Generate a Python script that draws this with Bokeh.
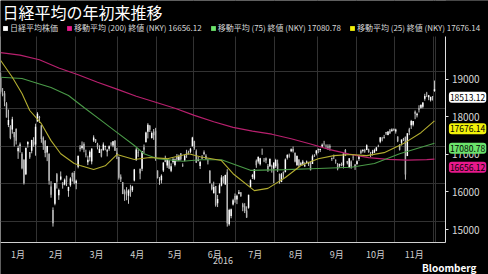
from bokeh.plotting import figure
from bokeh.models import (ColumnDataSource, Range1d, FixedTicker, Legend, LegendItem, Label,
                          BoxAnnotation)
from bokeh.embed import file_html
from bokeh.resources import INLINE

FONT = "Noto Sans CJK JP"

title_text = "日経平均の年初来推移"
source_text = "Bloomberg"
month_labels = ["1月", "2月", "3月", "4月", "5月", "6月", "7月", "8月", "9月", "10月", "11月"]
year_label = "2016"
y_tick_values = [15000, 16000, 17000, 18000, 19000]

# trading days (day of month) per month, 2016
days_jan = [4,5,6,7,8,12,13,14,15,18,19,20,21,22,25,26,27,28,29]
days_feb = [1,2,3,4,5,8,9,10,12,15,16,17,18,19,22,23,24,25,26,29]
days_mar = [1,2,3,4,7,8,9,10,11,14,15,16,17,18,22,23,24,25,28,29,30,31]
days_apr = [1,4,5,6,7,8,11,12,13,14,15,18,19,20,21,22,25,26,27,28]
days_may = [2,6,9,10,11,12,13,16,17,18,19,20,23,24,25,26,27,30,31]
days_jun = [1,2,3,6,7,8,9,10,13,14,15,16,17,20,21,22,23,24,27,28,29,30]
days_jul = [1,4,5,6,7,8,11,12,13,14,15,19,20,21,22,25,26,27,28,29]
days_aug = [1,2,3,4,5,8,9,10,12,15,16,17,18,19,22,23,24,25,26,29,30,31]
days_sep = [1,2,5,6,7,8,9,12,13,14,15,16,20,21,23,26,27,28,29,30]
days_oct = [3,4,5,6,7,11,12,13,14,17,18,19,20,21,24,25,26,27,28,31]
days_nov = [1,2,4,7,8,9,10,11,14,15,16,17,18,21,22,24,25,28,29,30]
days_dec = [1]
month_days = [days_jan, days_feb, days_mar, days_apr, days_may, days_jun,
              days_jul, days_aug, days_sep, days_oct, days_nov, days_dec]

opens = [
 18818,18398,18410,18139,17562,17538,17442,17379,17463,16866,17016,16800,16640,16254,17050,16848,16883,17122,17046,
 17657,17784,17558,17226,17146,16832,16795,15929,15305,15469,16256,15701,16116,16035,15985,16211,15808,15961,16287,16287,
 16017,16452,16938,16953,17061,16800,16575,16711,16594,17155,17185,17065,16821,16909,16893,16982,16860,16933,17089,17017,17151,16829,
 16720,16187,16044,15798,15822,15682,15870,15829,16087,16629,16842,16400,16403,16973,17114,17383,17543,17217,17386,17413,
 16357,16095,16098,16356,16659,16490,16630,16346,16580,16505,16714,16630,16811,16496,16619,16833,16850,16854,16997,
 17134,16865,16615,16474,16714,16799,16747,16618,16357,15977,15748,15944,15484,15751,15957,16199,15986,16312,14927,15147,15455,15681,
 15587,15739,15777,15461,15403,15295,15366,15918,16191,16134,16615,16597,16520,16807,16637,16684,16478,16465,16469,16412,
 16471,16542,16268,16053,16322,16312,16695,16752,16865,16929,16830,16503,16647,16507,16533,16463,16564,16540,16568,16528,16757,16806,
 16915,16902,16989,17087,17023,16994,17006,16659,16742,16608,16531,16491,16528,16489,16903,16606,16446,16598,16702,16507,
 16526,16659,16878,16877,16897,16900,16917,16804,16824,16833,16879,17004,17117,17207,17219,17344,17299,17418,17403,17460,
 17390,17256,17012,17095,17202,17255,16740,17452,17556,17571,17919,17824,18010,18024,18052,18265,18398,18303,18220,18323,
 18469]
highs = [
 18951,18547,18469,18172,17975,17561,17783,17379,17471,17019,17100,16843,16652,16958,17134,16848,17173,17241,17599,
 17905,17807,17558,17262,17162,17011,16816,16071,15375,16022,16288,15874,16330,16040,16142,16222,15925,16179,16302,16343,
 16114,16747,17031,17127,17105,16908,16749,16891,16940,17291,17193,17093,17026,16930,17102,17017,16929,17022,17107,17134,17155,16953,
 16721,16252,16050,15853,15913,15856,15976,15951,16398,16955,16915,16403,16874,17046,17387,17613,17565,17394,17457,17489,
 16357,16180,16253,16571,16749,16665,16630,16545,16690,16673,16794,16776,16818,16545,16781,16906,16881,16956,17251,
 17146,16916,16719,16613,16766,16889,16788,16673,16357,16007,16059,15944,15705,16014,16232,16202,16245,16390,15338,15345,15604,15744,
 15715,15837,15781,15496,15487,15403,15710,16118,16264,16389,16649,16723,16693,16938,16688,16702,16527,16670,16509,16569,
 16667,16644,16270,16288,16325,16676,16790,16805,16943,16993,16831,16745,16650,16585,16637,16572,16622,16586,16598,16778,16789,16901,
 16941,16936,17073,17144,17050,17051,17050,16699,16778,16654,16555,16538,16566,16807,16925,16611,16683,16623,16782,16530,
 16625,16774,16909,16923,16932,17050,16935,16849,16905,16935,16981,17041,17236,17249,17301,17381,17400,17459,17477,17474,
 17468,17261,17055,17177,17223,17255,17344,17490,17700,17668,17950,17893,18089,18106,18170,18395,18445,18363,18320,18335,
 18746]
lows = [
 18394,18327,18064,17767,17509,17186,17334,16994,17046,16665,16832,16387,15983,16234,16964,16665,16812,16987,16749,
 17658,17619,17092,16904,16708,16604,15979,15633,14865,15431,15875,15575,16093,15874,15960,15941,15657,15924,16063,15990,
 15857,16413,16860,16912,16841,16706,16500,16601,16520,17111,17087,16917,16821,16704,16885,16893,16730,16880,17012,16975,16879,16659,
 16113,16051,15727,15548,15566,15471,15657,15785,16066,16618,16718,16122,16339,16813,17093,17208,17379,17204,17170,16614,
 16147,15975,16011,16316,16576,16425,16392,16312,16540,16465,16590,16598,16621,16451,16600,16692,16779,16813,16992,
 16907,16559,16599,16395,16658,16761,16642,16517,16019,15827,15748,15395,15384,15751,15934,16012,15980,14864,14888,15085,15426,15500,
 15462,15725,15657,15273,15224,15096,15339,15907,16129,16105,16427,16540,16489,16772,16578,16549,16319,16464,16299,16023,
 16426,16318,16004,16045,16160,16312,16647,16695,16843,16833,16572,16473,16440,16491,16489,16462,16552,16475,16360,16528,16718,16758,
 16815,16846,16976,17015,16928,16905,16885,16611,16658,16535,16360,16436,16470,16410,16740,16517,16417,16405,16625,16372,
 16509,16611,16793,16833,16826,16896,16828,16713,16755,16820,16868,16976,17081,17132,17202,17298,17290,17336,17382,17409,
 17336,17109,16887,17020,17141,16112,16738,17296,17460,17529,17719,17766,17898,17995,18007,18211,18307,18224,18189,18216,
 18446]
closes = [
 18451,18374,18191,17767,17698,17219,17716,17241,17147,16956,17048,16416,16017,16959,17111,16709,17164,17041,17518,
 17865,17751,17191,17045,16820,17004,16085,15713,14953,16023,16054,15836,16197,15967,16111,16052,15916,16140,16188,16027,
 16086,16747,16960,17015,16911,16783,16642,16852,16939,17234,17117,16974,16936,16725,17049,17001,16892,17003,17083,17134,16879,16759,
 16164,16123,15733,15715,15750,15822,15751,15929,16381,16911,16848,16276,16874,16907,17364,17572,17439,17353,17290,16666,
 16147,16107,16216,16565,16579,16646,16412,16466,16653,16645,16647,16736,16655,16499,16757,16772,16835,16931,17235,
 16956,16563,16642,16580,16675,16831,16668,16601,16019,15859,15920,15434,15600,15965,16169,16066,16238,14952,15309,15323,15567,15576,
 15682,15776,15669,15379,15276,15107,15709,16096,16231,16386,16498,16723,16682,16810,16627,16620,16383,16665,16477,16569,
 16636,16391,16083,16255,16254,16651,16765,16735,16920,16870,16597,16746,16486,16546,16598,16497,16597,16556,16361,16737,16725,16887,
 16927,16926,17038,17082,17012,16959,16966,16673,16729,16614,16405,16519,16492,16808,16754,16545,16684,16465,16694,16450,
 16599,16736,16819,16899,16860,17025,16840,16774,16856,16900,16964,16999,17236,17185,17234,17365,17392,17336,17446,17425,
 17442,17135,16905,17177,17171,16252,17344,17375,17673,17668,17862,17863,17967,18106,18163,18333,18381,18357,18307,18308,
 18513.12]

# moving averages: (trading-day index, value)
ma200_idx = [0,10,20,30,40,50,60,70,80,90,100,110,120,130,140,150,160,170,180,190,200,210,220,224]
ma200_val = [19490,19420,19300,19080,18900,18700,18520,18330,18170,18010,17820,17650,17500,17400,17320,17200,
             17060,16910,16790,16700,16650,16630,16645,16656.12]
ma75_idx = [0,11,18,26,35,43,52,60,69,74,81,94,103,114,129,147,164,181,193,206,224]
ma75_val = [18835,18800,18690,18560,18350,18030,17680,17370,17020,16800,16670,16600,16640,16640,16360,
            16380,16410,16440,16540,16800,17080.78]
ma25_idx = [0,6,11,15,21,26,31,38,41,48,54,60,69,77,86,97,103,114,120,131,138,147,155,164,172,181,189,198,208,217,224]
ma25_val = [19280,18835,18400,17950,17600,17150,16800,16540,16490,16380,16480,16780,16650,16700,16670,16800,
            16720,16620,16270,15820,15880,16170,16490,16670,16750,16780,16750,16830,17070,17360,17676.14]

# ---------------------------------------------------------------
n = len(closes)
xs = list(range(n))
counts = [len(m) for m in month_days]
bounds = []
acc = 0
for c in counts:
    acc += c
    bounds.append(acc - 0.5)
month_start = [-0.5] + bounds[:-1]
month_mid = [(a + b) / 2 for a, b in zip(month_start[:11], bounds[:11])]

up = [c >= o for o, c in zip(opens, closes)]
src_up = ColumnDataSource(dict(
    x=[x for x, u in zip(xs, up) if u],
    top=[max(o, c) for o, c, u in zip(opens, closes, up) if u],
    bottom=[min(o, c) for o, c, u in zip(opens, closes, up) if u]))
src_dn = ColumnDataSource(dict(
    x=[x for x, u in zip(xs, up) if not u],
    top=[max(o, c) for o, c, u in zip(opens, closes, up) if not u],
    bottom=[min(o, c) for o, c, u in zip(opens, closes, up) if not u]))
src_wick = ColumnDataSource(dict(x=xs, high=highs, low=lows))

# layout constants (pixels -> data)
W, H = 488, 274
X0, X1 = -0.1, 251.9           # full canvas width
Y0, Y1 = 13591.5, 20873.8      # full canvas height
AX_X = 229.9                   # right axis position (x data)
AX_Y = 14442.0                 # bottom axis position (y data)
TOP_Y = 19917.0                # top of chart area (y data)

BG = "#000000"
p = figure(width=W, height=H, x_range=Range1d(X0, X1), y_range=Range1d(Y0, Y1),
           y_axis_location="right", output_backend="svg", toolbar_location=None,
           title_location=None,
           background_fill_color=BG, border_fill_color=BG, outline_line_color=None,
           min_border_left=0, min_border_right=0, min_border_top=0, min_border_bottom=0)

# grid
p.xgrid.ticker = FixedTicker(ticks=bounds)
p.ygrid.ticker = FixedTicker(ticks=y_tick_values)
p.xgrid.grid_line_color = "#323232"
p.ygrid.grid_line_color = "#323232"
# keep grid inside the chart area
for kw in (dict(bottom=TOP_Y), dict(top=AX_Y), dict(left=AX_X)):
    p.add_layout(BoxAnnotation(fill_color=BG, fill_alpha=1, line_color=None, level="underlay", **kw))

# candles
p.segment(x0="x", y0="low", x1="x", y1="high", source=src_wick, line_color="#c4c4c4", line_width=1)
r_up = p.vbar(x="x", top="top", bottom="bottom", width=0.75, source=src_up, fill_color="#ffffff", line_color=None)
p.vbar(x="x", top="top", bottom="bottom", width=0.75, source=src_dn, fill_color="#b5b5b5", line_color=None)

# moving averages
p.line(ma200_idx, ma200_val, line_color="#b8206e", line_width=1.2)
p.line(ma75_idx, ma75_val, line_color="#4a9a48", line_width=1.1)
p.line(ma25_idx, ma25_val, line_color="#b3ad30", line_width=1.1)

# legend swatches: zero-height bars at each average's last point
def swatch(idx, vals, color):
    s = ColumnDataSource(dict(x=[idx[-1]], top=[vals[-1]], bottom=[vals[-1]]))
    return p.vbar(x="x", top="top", bottom="bottom", width=0.01, source=s, fill_color=color, line_color=None)

r200 = swatch(ma200_idx, ma200_val, "#e8198c")
r75 = swatch(ma75_idx, ma75_val, "#6be36b")
r25 = swatch(ma25_idx, ma25_val, "#f2f20a")
legend = Legend(items=[
    LegendItem(label="日経平均株価", renderers=[r_up]),
    LegendItem(label=f"移動平均 (200) 終値 (NKY) {ma200_val[-1]:.2f}", renderers=[r200]),
    LegendItem(label=f"移動平均 (75) 終値 (NKY) {ma75_val[-1]:.2f}", renderers=[r75]),
    LegendItem(label=f"移動平均 (25) 終値 (NKY) {ma25_val[-1]:.2f}", renderers=[r25]),
], orientation="horizontal", location=(2, H - 33), padding=0, margin=0, spacing=8,
   label_standoff=2, glyph_width=6, glyph_height=6, label_height=8,
   label_text_font=FONT, label_text_font_size="8px", label_text_color="#d8d8d8",
   background_fill_alpha=0, border_line_color=None)
p.add_layout(legend, "center")

# title and source
p.add_layout(Label(x=2, y=H - 11, x_units="screen", y_units="screen", text=title_text,
                   text_font=FONT, text_font_size="16px", text_color="#ffffff",
                   text_baseline="middle", text_align="left"))
p.add_layout(Label(x=W - 12, y=H - 267, x_units="screen", y_units="screen", text=source_text,
                   text_font=FONT, text_font_size="10px", text_font_style="bold",
                   text_color="#ffffff", text_baseline="middle", text_align="right"))

# x axis (drawn at the chart's bottom edge)
xax = p.xaxis[0]
xax.fixed_location = AX_Y
xax.bounds = (X0, AX_X)
xax.ticker = FixedTicker(ticks=month_mid, minor_ticks=[])
xax.major_label_overrides = {m: lab for m, lab in zip(month_mid, month_labels)}
xax.major_tick_line_color = None
xax.minor_tick_line_color = None
xax.axis_line_color = "#d0d0d0"
xax.major_label_text_font = FONT
xax.major_label_text_font_size = "9px"
xax.major_label_text_color = "#d0d0d0"
xax.major_label_standoff = 0
xax.axis_label = year_label
xax.axis_label_text_font = FONT
xax.axis_label_text_font_size = "9px"
xax.axis_label_text_font_style = "normal"
xax.axis_label_text_color = "#d0d0d0"
xax.axis_label_standoff = -8

# y axis (labels drawn slightly below their grid line, as in the original)
yax = p.yaxis[0]
yax.fixed_location = AX_X
yax.bounds = (AX_Y, TOP_Y)
shift = 213
yax.ticker = FixedTicker(ticks=[v - shift for v in y_tick_values], minor_ticks=[])
yax.major_label_overrides = {v - shift: str(v) for v in y_tick_values}
yax.axis_line_color = "#e0e0e0"
yax.major_tick_line_color = "#e0e0e0"
yax.major_tick_in = 0
yax.major_tick_out = 3
yax.minor_tick_line_color = None
yax.major_label_text_font = FONT
yax.major_label_text_font_size = "10px"
yax.major_label_text_color = "#d8d8d8"
yax.major_label_standoff = 3

# value badges
badges = [(closes[-1], "#ffffff", -8), (ma25_val[-1], "#f2f20a", -8),
          (ma75_val[-1], "#6be36b", -5), (ma200_val[-1], "#e8198c", -8)]
for val, col, off in badges:
    p.add_layout(Label(x=AX_X, y=val, x_offset=3, y_offset=off, text=f"{val:.2f}",
                       text_font=FONT, text_font_size="8.5px", text_color="#000000",
                       text_baseline="middle", text_align="left",
                       background_fill_color=col, padding=(1, 2), border_radius=3))

open("out.html", "w").write(file_html(p, INLINE))
